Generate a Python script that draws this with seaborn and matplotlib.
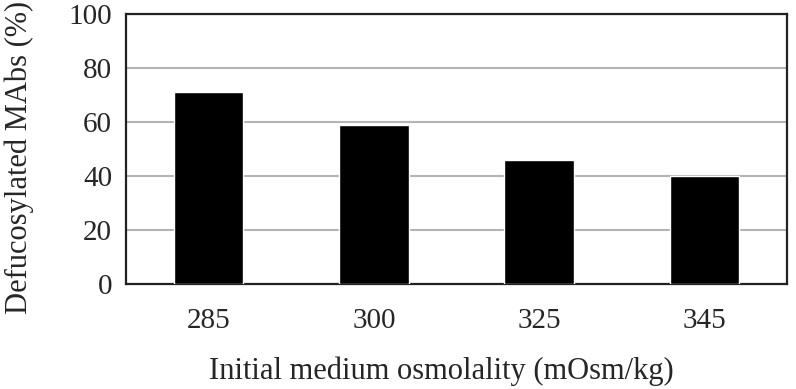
import pandas as pd
import seaborn as sns
import matplotlib.pyplot as plt
from matplotlib.ticker import FixedLocator

# dati
osmolality = ['285', '300', '325', '345']
defucosylated = [71, 59, 46, 40]
y_ticks = [0, 20, 40, 60, 80, 100]

df = pd.DataFrame({'osm': osmolality, 'defuc': defucosylated})

sns.set_style('white')
plt.rcParams['font.family'] = ['Liberation Serif', 'DejaVu Serif']

fig = plt.figure(figsize=(7.96, 3.89), dpi=100)
ax = fig.add_axes([0.1583, 0.270, 0.8304, 0.694])

sns.barplot(data=df, x='osm', y='defuc', color='black', width=0.42,
            saturation=1, ax=ax, zorder=3)

ax.set_xlim(-0.5, 3.5)
ax.set_ylim(0, 100)
ax.set_yticks(y_ticks)
ax.yaxis.grid(True, color='#b4b4b4', linewidth=1.5, zorder=0)
ax.set_axisbelow(True)

for sp in ax.spines.values():
    sp.set_visible(True)
    sp.set_color('#222222')
    sp.set_linewidth(1.6)

ax.tick_params(axis='y', direction='in', length=11, width=1.5, color='#222222',
               labelsize=21, pad=10)
ax.tick_params(axis='x', which='major', length=0, labelsize=21, pad=17)
ax.xaxis.set_minor_locator(FixedLocator([0.5, 1.5, 2.5]))
ax.tick_params(axis='x', which='minor', direction='in', length=9, width=1.5,
               color='#222222')

ax.set_xlabel('Initial medium osmolality (mOsm/kg)', fontsize=22)
ax.set_ylabel('Defucosylated MAbs (%)', fontsize=22)
ax.xaxis.set_label_coords(0.4766, -0.268)
ax.yaxis.set_label_coords(-0.139, 0.467)

plt.savefig('out.png', dpi=100)
